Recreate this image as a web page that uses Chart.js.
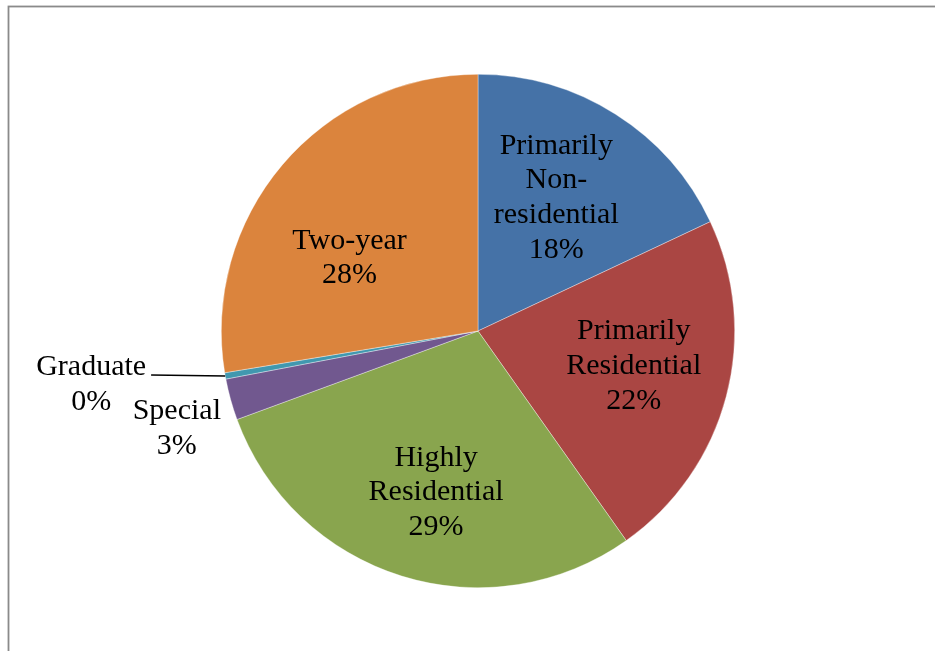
<!DOCTYPE html>
<html>
<head>
<meta charset="utf-8">
<script src="https://cdn.jsdelivr.net/npm/chart.js@4/dist/chart.umd.min.js"></script>
<style>
  html, body { margin: 0; padding: 0; background: #ffffff; }
  #wrap { width: 935px; height: 651px; position: relative; }
</style>
</head>
<body>
<div id="wrap"><canvas id="c" width="935" height="651"></canvas></div>
<script>
// Institution types (Carnegie classification groups), share of total
const categories = [
  'Primarily Non-residential',
  'Primarily Residential',
  'Highly Residential',
  'Special',
  'Graduate',
  'Two-year'
];
const categoryLines = [
  ['Primarily', 'Non-', 'residential'],
  ['Primarily', 'Residential'],
  ['Highly', 'Residential'],
  ['Special'],
  ['Graduate'],
  ['Two-year']
];
const shares = [18.0, 22.2, 29.2, 2.6, 0.4, 27.6];
const sliceColors = ['#4572A7', '#AA4643', '#89A54E', '#71588F', '#4198AF', '#DB843D'];

// Label placement relative to each slice: radius fraction and angular shift (degrees)
const labelPlacement = [
  { r: 0.61, shift: -2.4 },
  { r: 0.62, shift: -2.9 },
  { r: 0.64, shift: -2.5 },
  { r: 1.23, shift: -2.0 },
  { r: 1.52, shift: 2.6, leader: true },
  { r: 0.58, shift: -9.9 }
];

const FONT = '30px "Liberation Serif", "Times New Roman", serif';
const LINE_H = 34.7;
const TEXT_DROP = 2.5;

const framePlugin = {
  id: 'frame',
  beforeDraw(chart) {
    const ctx = chart.ctx;
    ctx.save();
    ctx.strokeStyle = '#8a8a8a';
    ctx.lineWidth = 1.8;
    ctx.strokeRect(8.5, 6.5, chart.width + 20, chart.height + 20);
    ctx.restore();
  }
};

const labelPlugin = {
  id: 'sliceLabels',
  afterDatasetsDraw(chart) {
    const ctx = chart.ctx;
    const meta = chart.getDatasetMeta(0);
    const data = chart.data.datasets[0].data;
    const total = data.reduce((a, b) => a + b, 0);
    ctx.save();
    ctx.font = FONT;
    ctx.fillStyle = '#000000';
    ctx.textAlign = 'center';
    ctx.textBaseline = 'middle';
    meta.data.forEach((arc, i) => {
      const p = labelPlacement[i];
      const mid = (arc.startAngle + arc.endAngle) / 2;
      const a = mid + p.shift * Math.PI / 180;
      const rad = arc.outerRadius * p.r;
      const cx = arc.x + Math.cos(a) * rad;
      const cy = arc.y + Math.sin(a) * rad + TEXT_DROP;
      const lines = categoryLines[i].concat([Math.round(data[i] / total * 100) + '%']);
      const y0 = cy - (lines.length - 1) * LINE_H / 2;
      lines.forEach((t, k) => ctx.fillText(t, cx, y0 + k * LINE_H));
      if (p.leader) {
        const w = ctx.measureText(lines[0]).width;
        const ex = arc.x + Math.cos(mid) * arc.outerRadius;
        const ey = arc.y + Math.sin(mid) * arc.outerRadius;
        ctx.beginPath();
        ctx.strokeStyle = '#000000';
        ctx.lineWidth = 1.5;
        ctx.moveTo(cx + w / 2 + 5, y0 + 8);
        ctx.lineTo(ex, ey);
        ctx.stroke();
      }
    });
    ctx.restore();
  }
};

new Chart(document.getElementById('c'), {
  type: 'pie',
  data: {
    labels: categories,
    datasets: [{
      data: shares,
      backgroundColor: sliceColors,
      borderColor: 'rgba(255,255,255,0.6)',
      borderWidth: 0.6
    }]
  },
  options: {
    responsive: false,
    animation: false,
    layout: { padding: { left: 221, right: 200, top: 74, bottom: 63 } },
    plugins: {
      legend: { display: false },
      tooltip: { enabled: false }
    }
  },
  plugins: [framePlugin, labelPlugin]
});
</script>
</body>
</html>
